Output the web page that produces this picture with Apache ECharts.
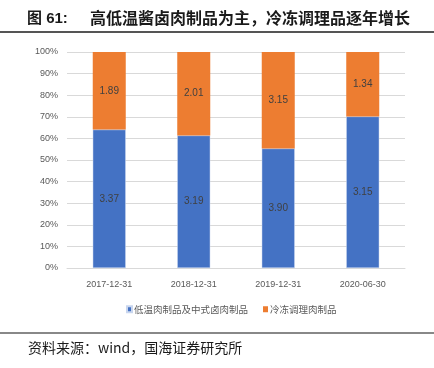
<!DOCTYPE html>
<html>
<head>
<meta charset="utf-8">
<script src="https://cdn.jsdelivr.net/npm/echarts@6/dist/echarts.min.js"></script>
<style>
  html, body { margin: 0; padding: 0; background: #fff; }
  #chart { width: 434px; height: 368px; }
</style>
</head>
<body>
<div id="chart"></div>
<script>
var dates = ["2017-12-31", "2018-12-31", "2019-12-31", "2020-06-30"];
var lowTemp = [3.37, 3.19, 3.90, 3.15];   // 低温肉制品及中式卤肉制品
var frozen = [1.89, 2.01, 3.15, 1.34];    // 冷冻调理肉制品
var yTicks = ["0%", "10%", "20%", "30%", "40%", "50%", "60%", "70%", "80%", "90%", "100%"];

var axisFont = "'Liberation Sans', Arial, sans-serif";
var cjkFont = "'Noto Sans CJK SC', sans-serif";

// share of each year's total, label keeps the raw value
function share(arr, i) {
    return arr[i] / (lowTemp[i] + frozen[i]) * 100;
}
var lowData = lowTemp.map(function (v, i) { return { value: share(lowTemp, i), raw: v }; });
var frozenData = frozen.map(function (v, i) { return { value: share(frozen, i), raw: v }; });

var labelCfg = {
    show: true,
    position: "inside",
    color: "#404040",
    fontSize: 10,
    fontFamily: axisFont,
    formatter: function (p) { return p.data.raw.toFixed(2); }
};

var chart = echarts.init(document.getElementById("chart"));
chart.setOption({
    animation: false,
    grid: { left: 67, right: 29, top: 52, bottom: 100 },
    xAxis: {
        type: "category",
        data: dates,
        axisLine: { lineStyle: { color: "#d9d9d9", width: 1 } },
        axisTick: { show: false },
        axisLabel: { color: "#595959", fontSize: 9, fontFamily: axisFont, margin: 12 }
    },
    yAxis: {
        type: "value",
        min: 0,
        max: 100,
        interval: 10,
        axisLine: { show: false },
        axisTick: { show: false },
        splitLine: { lineStyle: { color: "#d9d9d9" } },
        axisLabel: {
            color: "#595959", fontSize: 9, fontFamily: axisFont, margin: 9,
            formatter: function (v) { return yTicks[Math.round(v / 10)]; }
        }
    },
    legend: {
        bottom: 49,
        left: 121,
        itemWidth: 5,
        itemHeight: 6,
        itemGap: 15,
        icon: "rect",
        textStyle: { color: "#595959", fontSize: 9.5, fontFamily: cjkFont, padding: [0, 0, 0, -3] },
        data: ["低温肉制品及中式卤肉制品", "冷冻调理肉制品"]
    },
    series: [
        {
            name: "低温肉制品及中式卤肉制品",
            type: "bar",
            stack: "total",
            barWidth: 33,
            itemStyle: { color: "#4472c4", borderColor: "#c9d6ee", borderWidth: 0.5 },
            label: labelCfg,
            data: lowData
        },
        {
            name: "冷冻调理肉制品",
            type: "bar",
            stack: "total",
            barWidth: 33,
            itemStyle: { color: "#ed7d31" },
            label: labelCfg,
            data: frozenData
        }
    ],
    graphic: [
        {
            type: "text", left: 27, top: 11,
            style: { text: "图 61:", fill: "#1a1a1a", font: "bold 15px 'Liberation Sans', " + cjkFont }
        },
        {
            type: "text", left: 90, top: 10,
            style: { text: "高低温酱卤肉制品为主，冷冻调理品逐年增长", fill: "#1a1a1a",
                font: "bold 16px " + cjkFont }
        },
        { type: "rect", shape: { x: 0, y: 31, width: 434, height: 2 }, style: { fill: "#555" } },
        { type: "rect", shape: { x: 0, y: 332, width: 434, height: 2 }, style: { fill: "#888" } },
        {
            type: "text", left: 28, top: 341,
            style: { text: "资料来源：wind，国海证券研究所", fill: "#1a1a1a",
                font: "14px " + cjkFont }
        }
    ]
});
</script>
</body>
</html>
